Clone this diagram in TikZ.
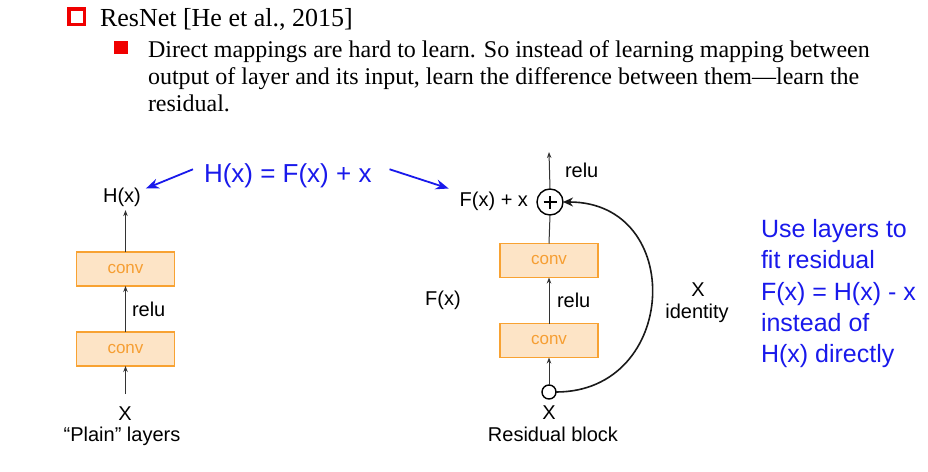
\documentclass[tikz,border=0pt]{standalone}
\usepackage{fontspec}
\setmainfont{Liberation Serif}
\setsansfont{Liberation Sans}
\usetikzlibrary{arrows.meta}
\definecolor{myblue}{RGB}{25,25,235}
\definecolor{convfill}{RGB}{253,228,198}
\definecolor{convdraw}{RGB}{248,162,50}
\definecolor{convtext}{RGB}{246,158,50}
\definecolor{redsq}{RGB}{240,0,0}
\begin{document}
\begin{tikzpicture}[x=1pt,y=-1pt,
 every node/.style={inner sep=0pt, outer sep=0pt},
 serifA/.style={font=\fontsize{26}{30}\selectfont, anchor=base west},
 serifB/.style={font=\fontsize{24}{28}\selectfont, anchor=base west},
 lbl/.style={font=\sffamily\fontsize{20}{24}\selectfont},
 bluelbl/.style={font=\sffamily\fontsize{25}{30}\selectfont, text=myblue, anchor=base west},
 convbox/.style={draw=convdraw, fill=convfill, line width=1.8pt, minimum width=98pt, minimum height=34pt, font=\sffamily\fontsize{17}{20}\selectfont, text=convtext},
 thinarrow/.style={draw=black!80, line width=1pt, -{Stealth[length=6pt,width=4.5pt]}},
 bluearrow/.style={draw=myblue, line width=1.8pt, -{Stealth[length=13pt,width=10pt]}},
 curvearrow/.style={draw=black!90, line width=1.6pt, -{Stealth[length=10pt,width=9pt]}},
]
\useasboundingbox (0,0) rectangle (928,471);

% bullets and serif text
\node[draw=redsq, line width=3.5pt, minimum size=15.5pt] (b1) at (76.5,16.5) {};
\node[fill=redsq, minimum size=13.5pt] (b2) at (121,47.5) {};
\node[serifA] (t1) at (100,26.7) {ResNet [He et al., 2015]};
\node[serifB] (t2) at (148,57) {Direct mappings are hard to learn. So instead of learning mapping between};
\node[serifB] (t3) at (148,84) {output of layer and its input, learn the difference between them—learn the};
\node[serifB] (t4) at (148,111) {residual.};

% plain layers
\node[lbl, anchor=base] (hx) at (122,202) {H(x)};
\node[convbox] (c1) at (125.5,269) {conv};
\node[convbox] (c2) at (125.5,349) {conv};
\node[lbl, anchor=base west] (r1) at (132,316) {relu};
\node[lbl, anchor=base] (x1) at (125,420) {X};
\node[lbl, anchor=base] (pl) at (122,441) {“Plain” layers};
\draw[thinarrow, shorten >=4pt] (c1.north) -- (c1.north |- hx.south);
\draw[thinarrow] (c2.north) -- (c1.south);
\draw[thinarrow, shorten <=12pt] (c2.south |- x1.north) -- (c2.south);

% blue equation
\node[font=\sffamily\fontsize{26}{30}\selectfont, text=myblue, anchor=base west] (eq) at (204,182) {H(x) = F(x) + x};

% residual block
\node[draw, circle, line width=1.4pt, minimum size=26pt] (plus) at (550,202) {};
\draw[line width=2.8pt] ([xshift=-6.5pt]plus.center) -- ([xshift=6.5pt]plus.center);
\draw[line width=2.8pt] ([yshift=-6.5pt]plus.center) -- ([yshift=6.5pt]plus.center);
\coordinate (top) at (549,152);
\draw[thinarrow] (plus.north) -- (top);
\node[lbl, anchor=base west] (r2) at (565,177) {relu};
\node[lbl, anchor=base east] (fxx) at (528,206) {F(x) + x};
\node[convbox] (c3) at (549,260.5) {conv};
\node[convbox] (c4) at (549,340.5) {conv};
\draw[line width=1pt, black!80] (c3.north) -- (plus.south);
\draw[thinarrow] (c4.north) -- (c3.south);
\node[lbl, anchor=base west] (r3) at (557,307) {relu};
\node[draw, circle, line width=1.4pt, minimum size=14pt] (sc) at (549,392) {};
\draw[thinarrow] (sc.north) -- (c4.south);
\node[lbl, anchor=base] (x2) at (549,419) {X};
\node[lbl, anchor=base] (rb) at (553,441.5) {Residual block};
\node[lbl, anchor=base] (fx) at (443,305) {F(x)};
\node[lbl, anchor=base] (x3) at (698,296) {X};
\node[lbl, anchor=base] (id) at (697,318) {identity};
\draw[curvearrow] (sc.east) .. controls +(123,0) and +(123,0) .. (plus.east);

% blue arrows
\draw[bluearrow] ([shift={(-11,-6)}]eq.west) -- ([shift={(5,1)}]hx.north east);
\draw[bluearrow] ([shift={(18,-6)}]eq.east) -- ([shift={(-11,-3)}]fxx.north west);

% right blue text
\node[bluelbl] (u1) at (761,237) {Use layers to};
\node[bluelbl] (u2) at (761,268.5) {fit residual};
\node[bluelbl] (u3) at (761,300) {F(x) = H(x) - x};
\node[bluelbl] (u4) at (761,331.5) {instead of};
\node[bluelbl] (u5) at (761,362) {H(x) directly};
\end{tikzpicture}
\end{document}
